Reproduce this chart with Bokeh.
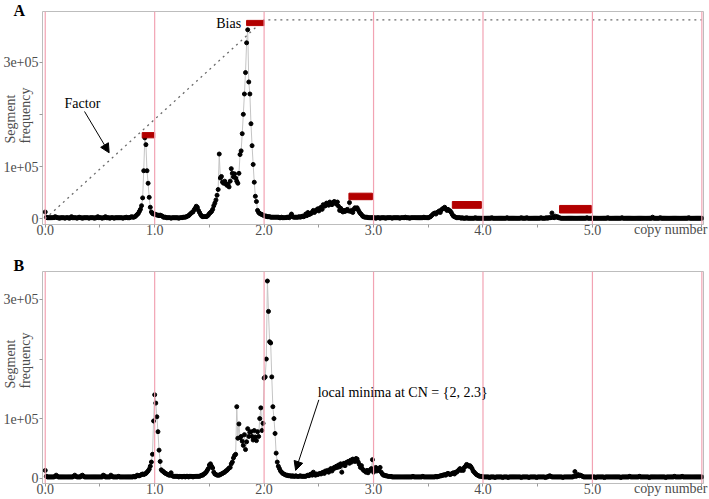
import numpy as np
from bokeh.plotting import figure
from bokeh.layouts import column
from bokeh.models import Range1d, FixedTicker, Label, Arrow, NormalHead, Span, Title
from bokeh.embed import file_html
from bokeh.resources import INLINE

# ---------------- data (segment frequency, in thousands, bins of 0.01 copy number) -------------
bin_width = 0.01

freq_a_k = [
    13, 3, 2, 2, 2, 2, 2, 2, 2, 4,
    3, 2, 2, 1, 2, 2, 2, 2, 1, 2,
    2, 2, 1, 2, 4, 2, 2, 2, 2, 1,
    2, 3, 2, 2, 1, 2, 2, 2, 2, 2,
    1, 2, 2, 2, 2, 1, 2, 2, 4, 2,
    2, 2, 1, 2, 2, 4, 2, 2, 2, 1,
    2, 2, 2, 1, 2, 2, 2, 2, 2, 2,
    2, 1, 2, 2, 3, 2, 2, 2, 3, 4,
    3, 3, 4, 6, 8, 10, 14, 18, 25, 40,
    92, 155, 142, 92, 68, 41, 22, 13, 10, 9,
    9, 8, 7, 7, 6, 7, 6, 5, 3, 3,
    3, 2, 2, 2, 2, 1, 2, 2, 2, 2,
    2, 2, 1, 2, 2, 2, 3, 3, 3, 4,
    5, 6, 8, 10, 12, 13, 17, 20, 24, 22,
    16, 12, 8, 5, 4, 4, 4, 4, 5, 7,
    10, 12, 14, 18, 25, 30, 36, 45, 56, 124,
    78, 81, 70, 68, 72, 67, 64, 66, 61, 72,
    96, 87, 80, 86, 78, 72, 68, 87, 123, 130,
    163, 200, 239, 280, 337, 362, 262, 239, 182, 140,
    104, 70, 43, 33, 16, 12, 10, 9, 8, 7,
    6, 5, 5, 4, 4, 4, 3, 3, 3, 3,
    3, 3, 3, 3, 2, 2, 3, 2, 2, 2,
    2, 3, 3, 2, 5, 9, 4, 3, 3, 3,
    3, 3, 4, 3, 4, 5, 4, 5, 9, 6,
    12, 8, 9, 10, 13, 16, 12, 15, 17, 19,
    15, 20, 22, 18, 27, 24, 25, 30, 28, 26,
    32, 29, 27, 31, 33, 32, 28, 32, 24, 16,
    20, 15, 13, 16, 14, 16, 18, 15, 31, 14,
    16, 12, 18, 21, 19, 21, 17, 13, 10, 8,
    5, 4, 3, 3, 3, 2, 2, 2, 2, 2,
    2, 2, 1, 2, 2, 2, 1, 2, 2, 2,
    2, 1, 2, 2, 2, 2, 2, 1, 2, 2,
    2, 2, 2, 2, 1, 2, 2, 2, 2, 3,
    2, 2, 2, 1, 2, 2, 2, 2, 2, 2,
    2, 2, 2, 2, 2, 2, 3, 2, 2, 2,
    2, 3, 4, 6, 8, 10, 11, 9, 12, 13,
    15, 12, 17, 19, 20, 22, 19, 16, 18, 16,
    15, 12, 8, 5, 4, 3, 2, 2, 2, 2,
    1, 2, 1, 1, 1, 2, 1, 1, 1, 1,
    1, 1, 1, 2, 1, 1, 1, 1, 1, 1,
    1, 1, 1, 1, 1, 1, 1, 1, 2, 1,
    1, 1, 1, 1, 1, 1, 1, 1, 1, 1,
    1, 1, 2, 1, 1, 1, 1, 1, 1, 1,
    1, 1, 1, 1, 1, 2, 1, 1, 1, 1,
    2, 1, 1, 1, 1, 1, 1, 1, 1, 1,
    1, 1, 1, 2, 1, 1, 1, 1, 2, 1,
    2, 2, 2, 11, 3, 2, 5, 3, 4, 2,
    2, 1, 1, 1, 1, 1, 1, 1, 1, 1,
    1, 1, 1, 1, 1, 1, 1, 1, 1, 1,
    1, 1, 1, 1, 1, 2, 1, 1, 1, 1,
    1, 1, 1, 1, 1, 1, 1, 1, 1, 1,
    1, 1, 1, 1, 2, 1, 1, 1, 1, 1,
    1, 1, 1, 1, 1, 1, 1, 2, 1, 1,
    1, 1, 1, 1, 1, 1, 1, 1, 1, 1,
    1, 1, 1, 1, 1, 1, 1, 1, 1, 1,
    1, 1, 1, 1, 1, 3, 1, 1, 1, 1,
    1, 1, 2, 1, 1, 1, 1, 1, 1, 1,
    1, 1, 1, 1, 1, 1, 1, 1, 1, 1,
    1, 1, 1, 1, 1, 1, 1, 1, 2, 1,
    1, 1, 1, 1, 1, 1, 1, 1, 1, 1,
    1,
]

freq_b_k = [
    13, 3, 2, 2, 2, 2, 2, 2, 2, 3,
    5, 3, 2, 2, 2, 2, 2, 2, 2, 2,
    2, 2, 2, 2, 2, 2, 3, 5, 3, 2,
    2, 2, 2, 4, 5, 3, 2, 2, 2, 2,
    2, 2, 2, 2, 2, 2, 2, 2, 2, 2,
    2, 2, 2, 5, 4, 2, 2, 2, 2, 2,
    5, 3, 2, 2, 2, 2, 2, 3, 2, 2,
    2, 2, 2, 2, 2, 2, 2, 2, 2, 2,
    2, 3, 2, 3, 5, 4, 4, 5, 6, 7,
    6, 7, 8, 10, 12, 15, 20, 27, 40, 96,
    140, 126, 103, 78, 47, 28, 14, 12, 11, 9,
    8, 7, 6, 5, 5, 9, 4, 3, 3, 3,
    3, 3, 2, 3, 3, 2, 3, 3, 2, 3,
    3, 2, 3, 3, 3, 2, 3, 3, 3, 3,
    3, 3, 4, 5, 5, 7, 8, 10, 13, 16,
    22, 24, 20, 17, 10, 7, 6, 5, 5, 5,
    6, 7, 8, 9, 10, 12, 13, 15, 17, 18,
    24, 27, 34, 38, 40, 120, 67, 91, 68, 70,
    62, 55, 73, 48, 61, 83, 70, 77, 78, 70,
    64, 80, 69, 63, 78, 70, 100, 118, 80, 92,
    168, 170, 200, 331, 280, 229, 227, 170, 120, 100,
    75, 42, 27, 20, 16, 12, 10, 8, 7, 6,
    5, 5, 4, 4, 4, 3, 4, 3, 3, 4,
    3, 3, 3, 4, 3, 3, 3, 3, 3, 4,
    5, 4, 6, 7, 5, 10, 6, 5, 7, 6,
    7, 8, 7, 9, 10, 8, 12, 11, 13, 10,
    14, 16, 12, 15, 18, 17, 20, 18, 22, 19,
    24, 10, 22, 25, 21, 26, 27, 28, 25, 30,
    27, 32, 30, 28, 33, 32, 27, 23, 18, 21,
    15, 13, 12, 10, 13, 9, 12, 14, 16, 31,
    10, 14, 18, 12, 15, 13, 18, 10, 7, 5,
    5, 4, 4, 3, 3, 3, 3, 2, 2, 2,
    2, 2, 2, 2, 2, 2, 2, 2, 2, 2,
    2, 2, 2, 2, 2, 2, 3, 2, 2, 2,
    2, 2, 2, 2, 2, 3, 2, 2, 2, 2,
    2, 2, 2, 2, 2, 2, 2, 3, 2, 3,
    3, 4, 4, 5, 5, 6, 5, 7, 8, 7,
    6, 7, 8, 9, 7, 10, 10, 12, 14, 16,
    13, 15, 13, 18, 20, 23, 22, 20, 21, 19,
    16, 12, 10, 8, 6, 5, 4, 3, 3, 3,
    2, 2, 2, 2, 2, 2, 1, 2, 2, 2,
    2, 1, 2, 2, 2, 2, 2, 2, 1, 2,
    2, 2, 2, 1, 2, 2, 2, 2, 2, 2,
    2, 2, 2, 2, 2, 1, 2, 2, 2, 2,
    2, 2, 1, 2, 2, 2, 2, 2, 2, 1,
    2, 2, 2, 2, 2, 2, 2, 1, 2, 2,
    3, 4, 3, 2, 2, 2, 2, 2, 2, 2,
    2, 2, 2, 1, 2, 2, 2, 2, 2, 2,
    2, 2, 2, 3, 11, 3, 4, 6, 4, 5,
    4, 3, 2, 2, 2, 2, 2, 2, 2, 2,
    2, 2, 2, 1, 2, 2, 2, 2, 2, 2,
    2, 1, 2, 2, 2, 2, 2, 2, 2, 2,
    2, 2, 2, 2, 2, 2, 1, 2, 2, 2,
    2, 2, 2, 2, 3, 2, 2, 2, 2, 2,
    2, 2, 2, 3, 2, 2, 2, 2, 2, 2,
    2, 2, 1, 2, 2, 2, 2, 2, 2, 2,
    2, 2, 2, 2, 2, 2, 2, 1, 2, 2,
    2, 2, 2, 2, 2, 3, 2, 2, 2, 2,
    2, 2, 3, 2, 2, 2, 2, 2, 2, 2,
    2, 2, 2, 2, 2, 2, 2, 2, 2, 2,
    2,
]

cn_lines = [0, 1, 2, 3, 4, 5, 6]
x_ticks = [0, 0.5, 1, 1.5, 2, 2.5, 3, 3.5, 4, 4.5, 5, 5.5, 6]
x_tick_labels = ["0.0", "", "1.0", "", "2.0", "", "3.0", "", "4.0", "", "5.0", "", ""]
y_ticks = [0, 100000, 200000, 300000]
y_tick_labels = ["0", "1e+05", "", "3e+05"]

# Panel A: factor line and bias boxes
factor_x = [0, 2, 6]
factor_y = [0, 381000, 381000]
box_left = [0.886, 1.84, 2.775, 3.72, 4.70]
box_right = [1.0, 2.0, 2.99, 3.985, 4.99]
box_bottom = [155000, 370000, 36500, 20000, 11000]
box_top = [165000, 380000, 49000, 33000, 25500]

FONT = "Liberation Serif"
TICK_COLOR = "#4d4d4d"


def make_panel(freq_k, y_start, y_end, height, b_top, b_bottom, letter, letter_standoff,
               ylabel_offset):
    x = np.round(np.arange(len(freq_k)) * bin_width, 2)
    y = np.array(freq_k, dtype=float) * 1000
    p = figure(width=709, height=height, output_backend="svg", toolbar_location=None,
               x_range=Range1d(-0.025, 6.015), y_range=Range1d(y_start, y_end),
               min_border_left=41, min_border_right=6,
               min_border_top=b_top, min_border_bottom=b_bottom)
    p.title = Title(text=letter, align="left", offset=-29, standoff=letter_standoff,
                    text_font=FONT, text_font_size="16px", text_font_style="bold",
                    text_color="black")
    p.background_fill_color = "white"
    p.border_fill_color = "white"
    p.outline_line_color = "#bdbdbd"
    p.outline_line_width = 1
    p.xgrid.visible = False
    p.ygrid.visible = False

    for ax in (p.xaxis[0], p.yaxis[0]):
        ax.axis_line_color = None
        ax.major_tick_line_color = "#9a9a9a"
        ax.major_tick_out = 3
        ax.major_tick_in = 0
        ax.minor_tick_line_color = None
        ax.major_label_text_font = FONT
        ax.major_label_text_font_size = "14px"
        ax.major_label_text_color = TICK_COLOR
    p.xaxis.major_label_standoff = -3
    p.yaxis.major_label_standoff = 1

    p.xaxis.ticker = FixedTicker(ticks=x_ticks)
    p.xaxis.major_label_overrides = {t: s for t, s in zip(x_ticks, x_tick_labels)}
    p.yaxis.ticker = FixedTicker(ticks=y_ticks)
    p.yaxis.major_label_overrides = {t: s for t, s in zip(y_ticks, y_tick_labels)}

    # y-axis title, drawn over the tick-label column next to the 2e+05 tick
    p.add_layout(Title(text="Segment\nfrequency", align="left", vertical_align="bottom",
                       offset=ylabel_offset, standoff=-64, text_font=FONT,
                       text_font_size="14px", text_font_style="normal",
                       text_color=TICK_COLOR), "left")

    # x-axis title, drawn on the same row as the tick labels, right-aligned
    p.add_layout(Title(text="copy number", align="right", vertical_align="top", offset=-4,
                       standoff=-32, text_font=FONT, text_font_size="14px",
                       text_font_style="normal", text_color=TICK_COLOR), "below")

    for c in cn_lines:
        p.add_layout(Span(location=c, dimension="height", line_color="#f2a3b3", line_width=1.2))

    p.line(x, y, line_color="#c4c4c4", line_width=1)
    p.scatter(x, y, size=4, fill_color="black", line_color="black")
    return p


# ---------------- Panel A ----------------
pa = make_panel(freq_a_k, -11000, 397000, 248, 11, 24, "A", -15, 81)
pa.line(factor_x, factor_y, line_color="#6a6a6a", line_width=1.3, line_dash="2 4")
pa.quad(left=box_left, right=box_right, bottom=box_bottom, top=box_top,
        fill_color="#b20000", line_color="#b20000")
pa.add_layout(Label(x=0.34, y=221000, text="Factor", text_align="center", text_baseline="middle",
                    text_font=FONT, text_font_size="14px", text_color="black"))
pa.add_layout(Arrow(x_start=0.359, y_start=205500, x_end=0.584, y_end=126400,
                    line_color="black", line_width=1,
                    end=NormalHead(size=9, fill_color="black", line_color="black")))
pa.add_layout(Label(x=1.79, y=374700, text="Bias", text_align="right", text_baseline="middle",
                    text_font=FONT, text_font_size="14px", text_color="black"))

# ---------------- Panel B ----------------
pb = make_panel(freq_b_k, -9000, 347000, 251, 23, 16, "B", -5, 95)
pb.add_layout(Label(x=2.49, y=144300, text="local minima at CN = {2, 2.3}", text_align="left",
                    text_baseline="middle", text_font=FONT, text_font_size="14px",
                    text_color="black"))
pb.add_layout(Arrow(x_start=2.50, y_start=131500, x_end=2.288, y_end=13000,
                    line_color="black", line_width=1,
                    end=NormalHead(size=9, fill_color="black", line_color="black")))

layout = column(pa, pb)
open("out.html", "w").write(file_html(layout, INLINE))
